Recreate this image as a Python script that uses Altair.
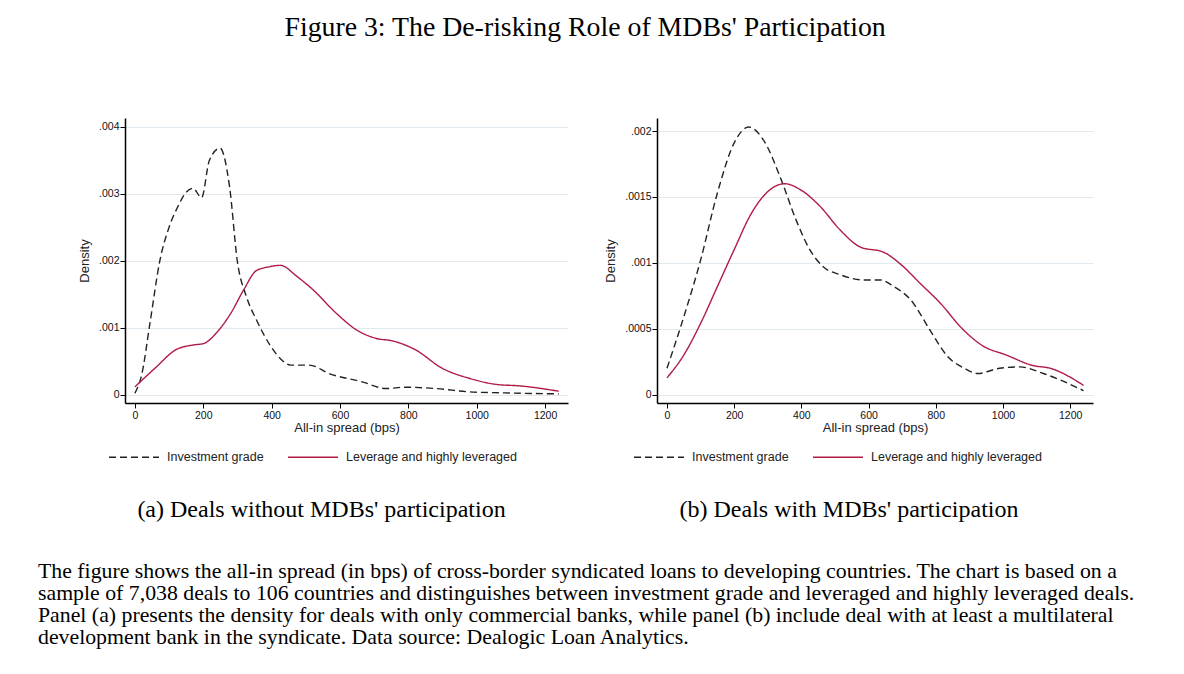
import altair as alt
import pandas as pd

SERIES = ["Investment grade", "Leverage and highly leveraged"]

# Panel (a): deals without MDBs' participation
a_ig_x = [0, 20, 45, 73, 100, 125, 150, 170, 195, 218, 249, 277, 300, 325, 355, 395, 425, 455, 510,
          570, 665, 735, 790, 880, 980, 1080, 1240]
a_ig_y = [0.00002, 0.0003, 0.0011, 0.002, 0.0025, 0.0028, 0.00302, 0.00308, 0.00294, 0.0035, 0.00368,
          0.0031, 0.00198, 0.00148, 0.00112, 0.00074, 0.00054, 0.00044, 0.00044, 0.00031, 0.00019,
          0.00009, 0.00011, 0.00009, 0.00004, 0.000025, 0.00001]
a_lev_x = [0, 60, 120, 170, 200, 240, 280, 320, 355, 395, 425, 475, 520, 590, 650, 705, 755, 820, 900,
           980, 1060, 1125, 1240]
a_lev_y = [0.000115, 0.0004, 0.00067, 0.00074, 0.00076, 0.00093, 0.00121, 0.00158, 0.00185, 0.00191,
           0.00193, 0.00176, 0.00157, 0.00121, 0.00096, 0.00084, 0.0008, 0.00067, 0.00039, 0.00024,
           0.00015, 0.00013, 0.00005]

# Panel (b): deals with MDBs' participation
b_ig_x = [0, 50, 100, 150, 200, 243, 290, 337, 385, 425, 465, 515, 585, 635, 675, 725, 785, 835, 885,
          925, 990, 1050, 1120, 1240]
b_ig_y = [0.0002, 0.00059, 0.00102, 0.00153, 0.00191, 0.00203, 0.00192, 0.00165, 0.00132, 0.0011,
          0.00097, 0.00091, 0.00087, 0.00087, 0.00082, 0.00072, 0.00048, 0.00029, 0.0002, 0.00016,
          0.0002, 0.00021, 0.00016, 0.00003]
b_lev_x = [0, 50, 100, 150, 200, 250, 300, 350, 400, 455, 515, 575, 645, 695, 755, 815, 875, 940, 1010,
           1090, 1140, 1240]
b_lev_y = [0.000127, 0.0003, 0.00054, 0.00082, 0.0011, 0.00137, 0.00154, 0.0016, 0.00155, 0.00143,
           0.00125, 0.00112, 0.00108, 0.00099, 0.00084, 0.00069, 0.00051, 0.00037, 0.0003, 0.00022,
           0.0002, 0.00007]

X_TICKS = [0, 200, 400, 600, 800, 1000, 1200]
A_Y_TICKS = [0, 0.001, 0.002, 0.003, 0.004]
B_Y_TICKS = [0, 0.0005, 0.001, 0.0015, 0.002]

TITLE = "Figure 3:  The De-risking Role of MDBs' Participation"
SUB_A = "(a) Deals without MDBs' participation"
SUB_B = "(b) Deals with MDBs' participation"
NOTE_LINES = [
    "The figure shows the all-in spread (in bps) of cross-border syndicated loans to developing countries.  The chart is based on a",
    "sample of 7,038 deals to 106 countries and distinguishes between investment grade and leveraged and highly leveraged deals.",
    "Panel (a) presents the density for deals with only commercial banks, while panel (b) include deal with at least a multilateral",
    "development bank in the syndicate.  Data source: Dealogic Loan Analytics.",
]

SANS = "Liberation Sans"
SERIF = "Liberation Serif"


def frame(xs_ig, ys_ig, xs_lev, ys_lev):
    return pd.DataFrame({
        "spread": xs_ig + xs_lev,
        "density": ys_ig + ys_lev,
        "series": [SERIES[0]] * len(xs_ig) + [SERIES[1]] * len(xs_lev),
        "order": list(range(len(xs_ig))) + list(range(len(xs_lev))),
    })


def panel(df, ydom, yticks, xdom, width, sub, legend_x, sub_dx):
    legend = alt.Legend(
        title=None, orient="none", legendX=legend_x, legendY=313, direction="horizontal",
        symbolType="stroke", symbolSize=2500, symbolStrokeWidth=1.5,
        labelFont=SANS, labelFontSize=12.5, labelColor="#222222", labelOffset=7,
        columnPadding=21, padding=0, labelLimit=400,
    )
    return alt.Chart(df).mark_line(interpolate="monotone", strokeWidth=1.4).encode(
        x=alt.X(
            "spread:Q",
            scale=alt.Scale(domain=xdom, nice=False, zero=False),
            axis=alt.Axis(
                values=X_TICKS, format="d", title="All-in spread (bps)", grid=False,
                domainColor="black", domainWidth=1.5, tickColor="black", tickSize=5, tickWidth=1,
                labelFont=SANS, labelFontSize=10.5, labelColor="#111111", labelPadding=2, labelFlush=False,
                titleFont=SANS, titleFontSize=13, titleFontWeight="normal", titleColor="#222222",
                titlePadding=1,
            ),
        ),
        y=alt.Y(
            "density:Q",
            scale=alt.Scale(domain=ydom, nice=False, zero=False),
            axis=alt.Axis(
                values=yticks, title="Density", grid=True, gridColor="#dfe9ee", gridWidth=1,
                labelExpr="datum.value == 0 ? '0' : substring(format(datum.value, '.4~f'), 1)",
                domainColor="black", domainWidth=1.5, tickColor="black", tickSize=5, tickWidth=1,
                labelFont=SANS, labelFontSize=10.5, labelColor="#111111", labelPadding=1, labelFlush=False,
                titleFont=SANS, titleFontSize=13, titleFontWeight="normal", titleColor="#222222",
                titlePadding=7,
            ),
        ),
        color=alt.Color("series:N", scale=alt.Scale(domain=SERIES, range=["#222222", "#b01a45"]),
                        legend=legend),
        strokeDash=alt.StrokeDash("series:N", scale=alt.Scale(domain=SERIES, range=[[7, 4], [1, 0]]),
                                  legend=legend),
        order="order:Q",
    ).properties(
        width=width, height=285,
        title=alt.TitleParams(sub, orient="bottom", font=SERIF, fontSize=24, fontWeight="normal",
                              color="black", offset=33.5, anchor="middle", dx=sub_dx),
    )


pa = panel(frame(a_ig_x, a_ig_y, a_lev_x, a_lev_y), [-0.000126, 0.00413], A_Y_TICKS,
           [-29, 1267], 443, SUB_A, -17, -25)
pb = panel(frame(b_ig_x, b_ig_y, b_lev_x, b_lev_y), [-0.0000638, 0.0020987], B_Y_TICKS,
           [-29.75, 1268], 436, SUB_B, -24, -26)

panels = alt.hconcat(pa, pb, spacing=89, bounds="flush").resolve_scale(
    color="independent", strokeDash="independent")

note_df = pd.DataFrame({"row": list(range(len(NOTE_LINES))), "text": NOTE_LINES})
note = alt.Chart(note_df).mark_text(
    align="left", baseline="middle", font=SERIF, fontSize=21.8, color="black"
).encode(
    x=alt.value(-87),
    y=alt.Y("row:Q", scale=alt.Scale(domain=[0, 3], range=[0, 66]), axis=None),
    text="text:N",
).properties(width=968, height=66)

chart = alt.vconcat(
    panels, note, spacing=453, bounds="flush",
    title=alt.TitleParams(TITLE, font=SERIF, fontSize=27.8, fontWeight="normal", color="black",
                          anchor="middle", frame="bounds", offset=76.5, dx=-1),
    padding={"left": 30, "top": 5, "right": 5, "bottom": 5},
).configure_view(stroke=None)

chart.save("out.html", embed_options={"renderer": "svg", "actions": False})
